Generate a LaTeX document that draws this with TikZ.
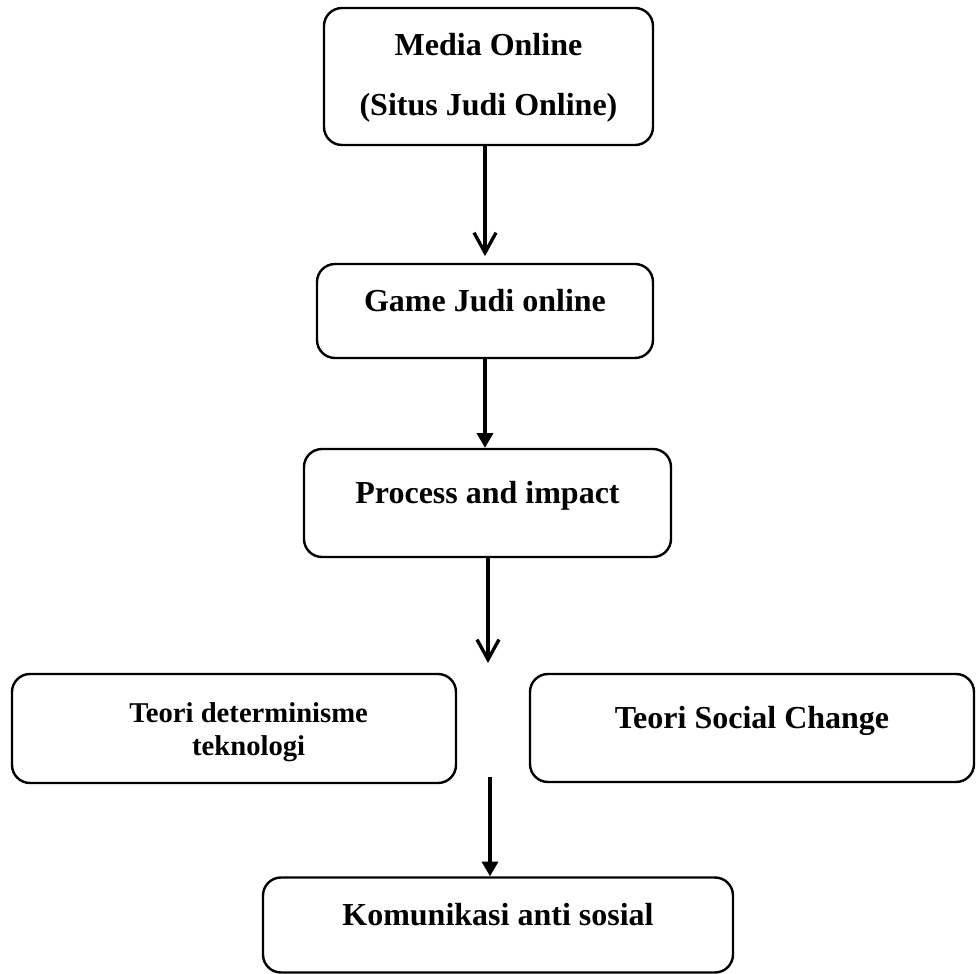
\documentclass[tikz,border=0pt]{standalone}
\usepackage{fontspec}
\setmainfont{Liberation Serif}
\usetikzlibrary{arrows.meta,positioning}

\begin{document}
\begin{tikzpicture}[
    x=0.75pt, y=-0.75pt,
    box/.style={draw, rectangle, rounded corners=13.5pt, line width=1.8pt, inner sep=0pt, align=center, font=\fontsize{24}{28}\selectfont\bfseries, text height=12pt, text depth=12pt},
    flow/.style={line width=2.5pt, -{Triangle[length=11pt, width=12pt]}},
    openflow/.style={line width=2.5pt, -{Straight Barb[length=15pt, width=16.5pt]}},
]
\useasboundingbox (0,0) rectangle (976,974);

% Media
\node[box, minimum width=246.75pt, minimum height=102.75pt, font=\fontsize{24}{45}\selectfont\bfseries, text height=69.8pt, text depth=12pt] (media) at (488.5,76.5) {Media Online\\(Situs Judi Online)};

% Game
\node[box, minimum width=252pt, minimum height=70.5pt] (game) at (485,311) {Game Judi online};

% Process
\node[box, minimum width=275.25pt, minimum height=81pt] (process) at (487.5,503) {Process and impact};

% Theories
\node[box, minimum width=333pt, minimum height=81.75pt, font=\fontsize{21.5}{24.75}\selectfont\bfseries, text height=49.8pt, text depth=10pt] (determinism) at (234,728.5) {\hspace*{22pt}Teori determinisme\\\hspace*{22pt}teknologi};
\node[box, minimum width=333pt, minimum height=81pt] (socialchange) at (752,728) {Teori Social Change};

% Result
\node[box, minimum width=352.5pt, minimum height=71.25pt] (antisocial) at (498,925) {Komunikasi anti sosial};

\coordinate (gap) at (488,663);
\coordinate (fork) at (490,777);

\draw[openflow, shorten >=5pt] (media.south -| game.north) -- (game.north);
\draw[flow] (game) -- (game |- process.north);
\draw[openflow] (process.south -| gap) -- (gap);
\draw[flow] (fork) -- (fork |- antisocial.north);

\end{tikzpicture}
\end{document}
